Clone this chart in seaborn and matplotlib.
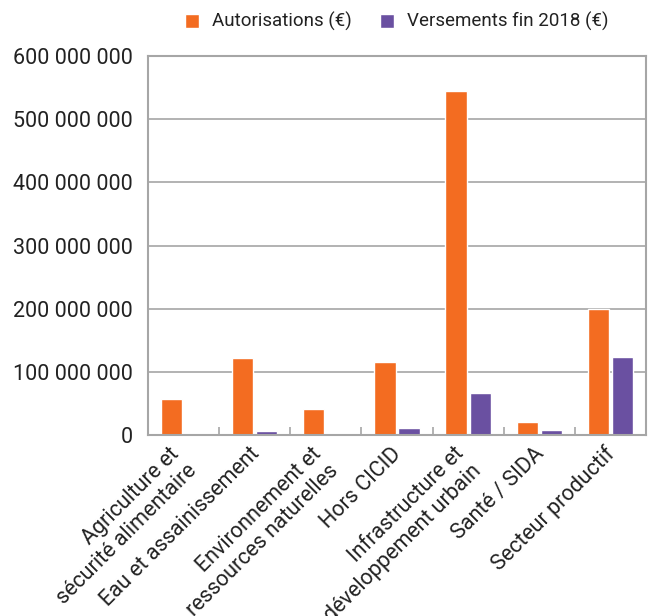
import pandas as pd
import matplotlib.pyplot as plt
import matplotlib.transforms as mtransforms
from matplotlib.ticker import FuncFormatter, FixedLocator
import seaborn as sns

# Chart data
sectors = [
    "Agriculture et\nsécurité alimentaire",
    "Eau et assainissement",
    "Environnement et\nressources naturelles",
    "Hors CICID",
    "Infrastructure et\ndéveloppement urbain",
    "Santé / SIDA",
    "Secteur productif",
]
autorisations = [57e6, 122e6, 41e6, 115e6, 545e6, 20e6, 200e6]
versements = [0, 6e6, 0, 11e6, 67e6, 8e6, 124e6]
series_names = ["Autorisations (€)", "Versements fin 2018 (€)"]
colors = ["#F36C21", "#6A50A1"]

df = pd.DataFrame({
    "sector": sectors * 2,
    "series": [series_names[0]] * len(sectors) + [series_names[1]] * len(sectors),
    "value": autorisations + versements,
})

sns.set_theme(style="white")
plt.rcParams["font.family"] = ["Roboto", "DejaVu Sans"]
text_color = "#222222"
grid_color = "#A6A6A6"

fig = plt.figure(figsize=(6.51, 6.16), dpi=100)
ax = fig.add_axes([0.2273, 0.2938, 0.765, 0.6153])

sns.barplot(data=df, x="sector", y="value", hue="series", palette=colors,
            width=0.68, gap=0.12, saturation=1, ax=ax)

ax.set_ylim(0, 600e6)
ax.set_xlim(-0.5, len(sectors) - 0.5)
ax.set_yticks([i * 100e6 for i in range(7)])
ax.yaxis.set_major_formatter(FuncFormatter(lambda v, p: f"{int(v):,}".replace(",", " ")))
ax.set_xlabel("")
ax.set_ylabel("")

# grid + frame
ax.set_axisbelow(True)
ax.yaxis.grid(True, color=grid_color, linewidth=1.2)
for side in ["left", "right", "bottom", "top"]:
    ax.spines[side].set_visible(True)
    ax.spines[side].set_color(grid_color)
    ax.spines[side].set_linewidth(1.5)

# category separators at the bottom
ax.xaxis.set_minor_locator(FixedLocator([i + 0.5 for i in range(len(sectors) - 1)]))
ax.tick_params(axis="x", which="minor", bottom=True, direction="in", length=6,
               width=1.2, color=grid_color)
ax.tick_params(axis="x", which="major", length=0, pad=6, labelsize=15.5, labelcolor=text_color)
ax.tick_params(axis="y", length=0, pad=11, labelsize=15.5, labelcolor=text_color)

# rotated labels, nudged right (two-line labels a bit more)
for lbl in ax.get_xticklabels():
    n_lines = lbl.get_text().count("\n") + 1
    shift_px = 9 + 8 * (n_lines - 1)
    shift = mtransforms.ScaledTranslation(shift_px / 100, 0, fig.dpi_scale_trans)
    lbl.set_rotation(45)
    lbl.set_ha("right")
    lbl.set_va("top")
    lbl.set_rotation_mode("default")
    lbl.set_multialignment("right")
    lbl.set_linespacing(1.2)
    lbl.set_transform(lbl.get_transform() + shift)

sns.move_legend(ax, "center", bbox_to_anchor=(0.5, 1.09), ncol=2, frameon=False,
                title=None, fontsize=13.5, handlelength=0.75, handleheight=0.75,
                handletextpad=0.7, columnspacing=1.5)
for t in ax.get_legend().get_texts():
    t.set_color(text_color)

plt.savefig("out.png", dpi=100)
